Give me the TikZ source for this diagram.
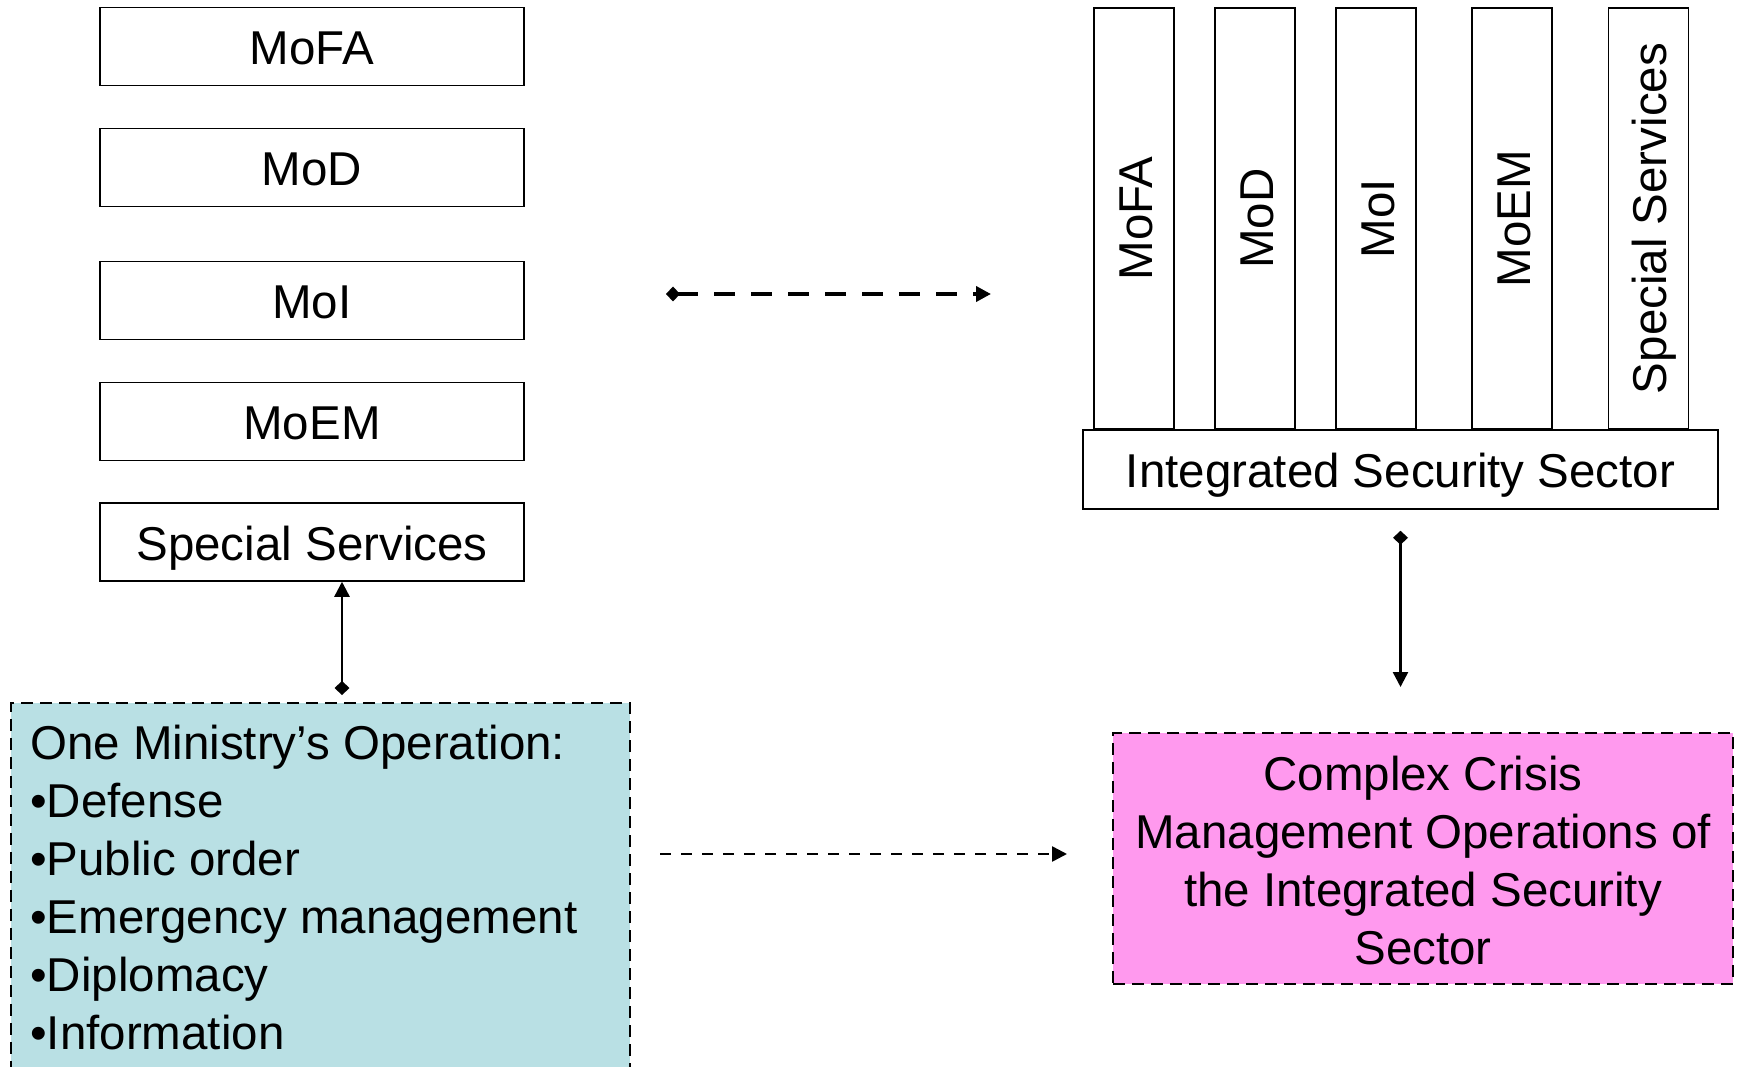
\documentclass[tikz,border=0pt]{standalone}
\usepackage{fontspec}
\setmainfont{Liberation Sans}
\usetikzlibrary{arrows.meta,calc}
\definecolor{opsblue}{RGB}{185,224,228}
\definecolor{crisispink}{RGB}{255,153,238}
\newcommand{\slidefont}{\fontsize{47.5}{58}\selectfont}
\tikzset{
  minbox/.style={draw,line width=1.5pt,minimum width=424pt,minimum height=78pt,inner sep=0pt,font=\slidefont,text height=42.5pt,text depth=6.5pt},
  colbox/.style={draw,line width=1.5pt,rotate=90,minimum width=421pt,minimum height=80pt,inner sep=0pt,font=\slidefont,text height=42.5pt,text depth=6.5pt},
  opsbox/.style={draw,line width=1.5pt,dash pattern=on 12pt off 7pt,inner sep=0pt},
  link/.style={line width=2.5pt,{Diamond[length=14pt,width=15pt]}-{Triangle[length=15pt,width=15pt]}}
}
\begin{document}
\begin{tikzpicture}[x=1pt,y=-1pt]
\useasboundingbox (0,0) rectangle (1740,1067);
% separate ministries
\node[minbox] (mofa) at (312,46.5) {MoFA};
\node[minbox] (mod) at (312,167.5) {MoD};
\node[minbox] (moi) at (312,300.5) {MoI};
\node[minbox] (moem) at (312,421.5) {MoEM};
\node[minbox] (ss) at (312,542) {Special Services};
% integrated sector
\node[minbox,minimum width=635pt,minimum height=79pt] (iss) at (1400.5,469.5) {Integrated Security Sector};
\node[colbox] (cmofa) at (1134,218.5) {MoFA};
\node[colbox] (cmod) at (1255,218.5) {MoD};
\node[colbox] (cmoi) at (1376,218.5) {MoI};
\node[colbox] (cmoem) at (1512,218.5) {MoEM};
\node[colbox] (css) at (1648.5,218.5) {Special Services};
% operations
\node[opsbox,fill=opsblue,anchor=north west,minimum width=619pt,minimum height=380pt] (ops) at (10,702) {};
\node[anchor=north west,inner sep=0pt,align=left,font=\slidefont] (opslist) at (30,725)
  {One Ministry’s Operation:\\•Defense\\•Public order\\•Emergency management\\•Diplomacy\\•Information};
\node[opsbox,fill=crisispink,minimum width=620pt,minimum height=251pt] (crisis) at (1423,858.5) {};
\node[align=center,font=\slidefont] (crisistext) at (1423,861)
  {Complex Crisis\\Management Operations of\\the Integrated Security\\Sector};
% connectors
\coordinate (l1) at (666,294);
\coordinate (r1) at (991,294);
\coordinate (l2) at (660,854);
\coordinate (r2) at (1067,854);
\coordinate (v1) at (342,695);
\coordinate (v2) at (1400.5,687);
\draw[link,line width=4pt,dash pattern=on 21pt off 16pt] (l1)--(r1);
\draw[link] (v1)--(ss.south -| v1);
\draw[link] ($(iss.south)+(0,21)$)--(v2);
\draw[line width=2.5pt,dash pattern=on 11pt off 10pt,-{Triangle[length=15pt,width=15pt]}] (l2)--(r2);
\end{tikzpicture}
\end{document}
